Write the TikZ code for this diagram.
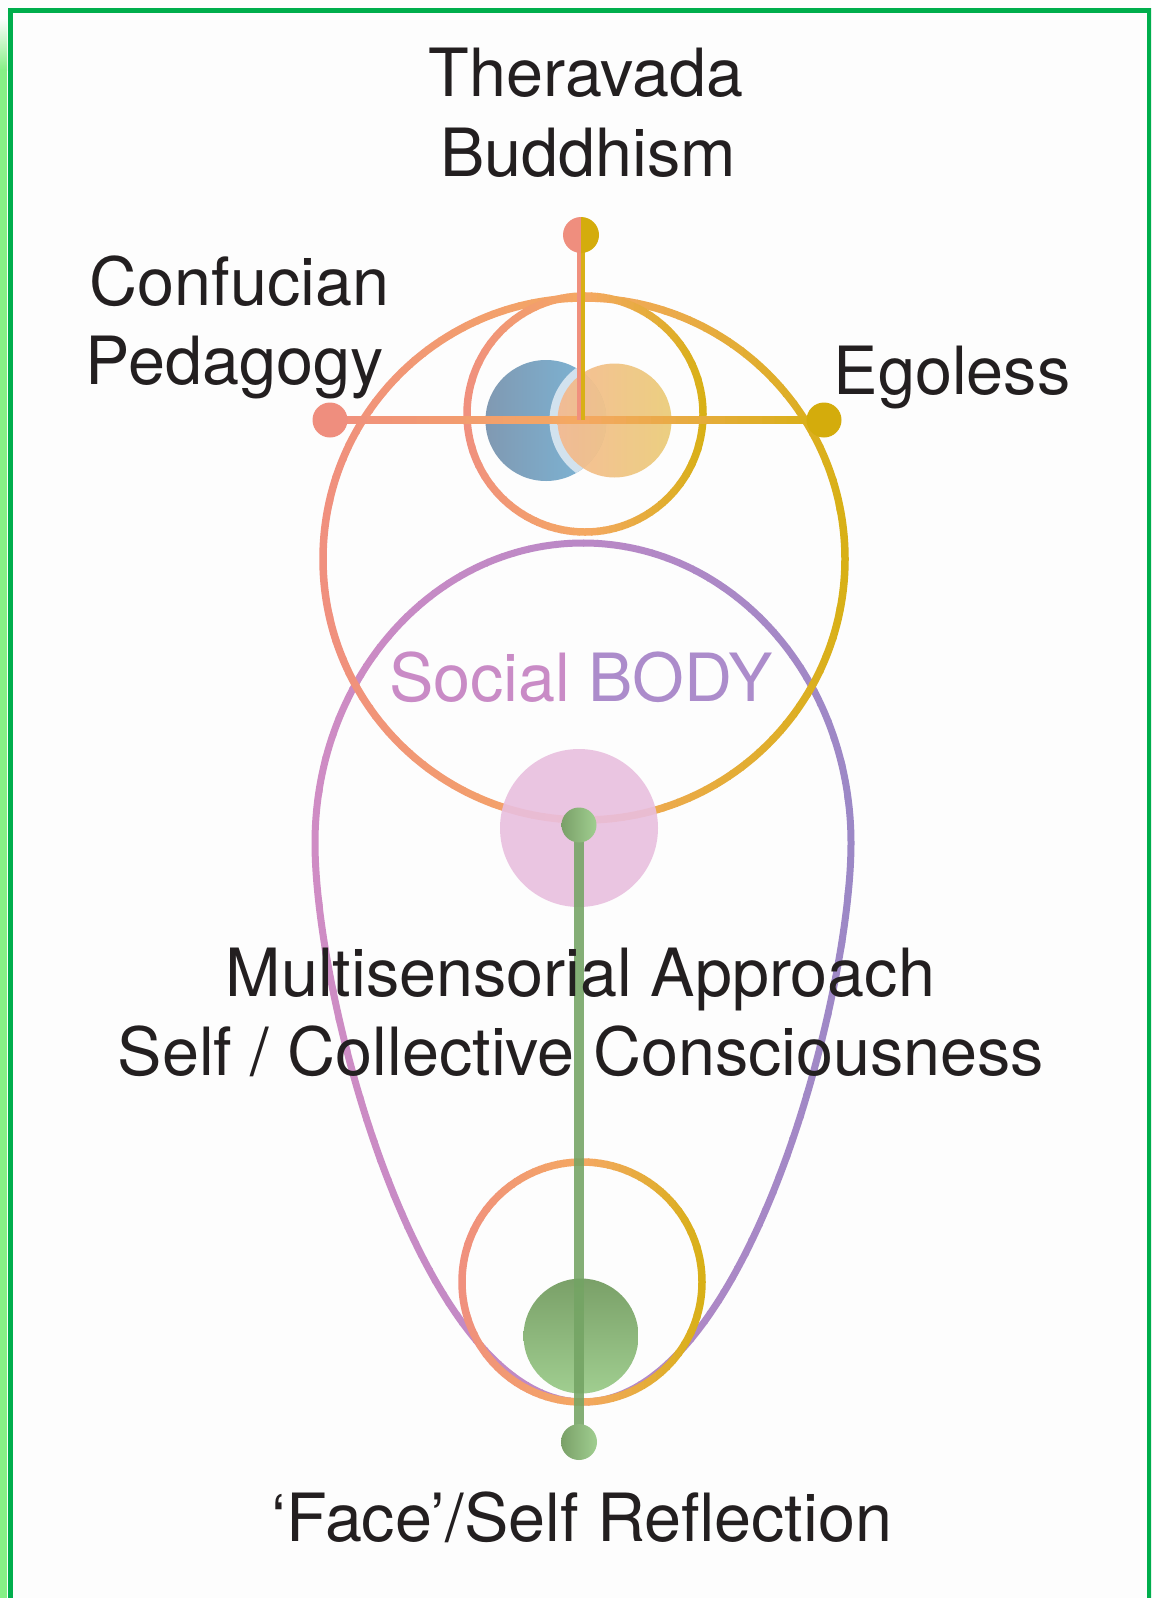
\documentclass[tikz,border=0pt]{standalone}
\usepackage{fontspec}
\setmainfont{TeX Gyre Heros}
\definecolor{bg}{HTML}{FDFDFD}
\definecolor{frame}{HTML}{00AE4C}
\definecolor{glow}{HTML}{86F086}
\definecolor{salmon}{HTML}{F0907E}
\definecolor{orng}{HTML}{F4A862}
\definecolor{gold}{HTML}{D8B016}
\definecolor{dotsalmon}{HTML}{EF8E7E}
\definecolor{dotgold}{HTML}{D4AC0C}
\definecolor{blueL}{HTML}{8099B2}
\definecolor{blueR}{HTML}{7BB8DA}
\definecolor{oranL}{HTML}{F6B68A}
\definecolor{oranR}{HTML}{E9C970}
\definecolor{halo}{HTML}{D2E2EE}
\definecolor{pinkdisc}{HTML}{E9BFDF}
\definecolor{tearL}{HTML}{CF8CC4}
\definecolor{tearM}{HTML}{BA88C6}
\definecolor{tearR}{HTML}{9C88C6}
\definecolor{grn}{HTML}{74A464}
\definecolor{grnD}{HTML}{7AA068}
\definecolor{grnL}{HTML}{A0CE90}
\definecolor{txt}{HTML}{231F20}
\definecolor{socA}{HTML}{C98BC6}
\definecolor{socB}{HTML}{AC8CCB}
\newcommand\gradstroke[7]{%
 \foreach \i in {0,...,39}{%
  \pgfmathsetmacro\xa{#2+(#3-#2)/40*\i}%
  \pgfmathsetmacro\xb{#2+(#3-#2)/40*(\i+1)+1}%
  \ifnum\i<20
    \pgfmathtruncatemacro\pc{100/19*\i}\def\ca{#4}\def\cb{#5}%
  \else
    \pgfmathtruncatemacro\pc{100/19*(\i-20)}\def\ca{#5}\def\cb{#6}%
  \fi
  \begin{scope}
   \clip (\xa,0) rectangle (\xb,1598);
   \draw[line width=#7, color=\cb!\pc!\ca] #1;
  \end{scope}}}
\tikzset{
 lbl/.style={inner sep=0pt, text=txt, font=\fontsize{66.5}{80}\selectfont},
}
\begin{document}
\begin{tikzpicture}[x=1pt,y=-1pt]
\useasboundingbox (0,0) rectangle (1151,1598);
\begin{scope}
\clip (0,0) rectangle (1151,1598);
\fill[bg] (0,0) rectangle (1151,1598);
% frame
\shade[top color=bg, bottom color=glow] (0,18) rectangle (7,70);
\fill[glow] (0,70) rectangle (7,1598);
\draw[frame, line width=5.5pt] (10.5,1598) -- (10.5,10.5) -- (1150,10.5) -- (1150,1598);

% coordinates
\coordinate (bigc) at (584,559);
\coordinate (smallc) at (585,414);
\coordinate (botc) at (582,1282);
\coordinate (tdot) at (581,235);
\coordinate (ldot) at (330,420);
\coordinate (rdot) at (824,420);
\coordinate (cross) at (581,420);
\coordinate (gtop) at (579,825);
\coordinate (gbot) at (579,1442);

% teardrop (social body)
\gradstroke{(315,843) .. controls (315,677) and (435,543) .. (583,543)
   .. controls (731,543) and (851,677) .. (851,843)
   .. controls (851,1000) and (744,1402) .. (583,1402)
   .. controls (422,1402) and (315,1000) .. (315,843) -- cycle}{308}{858}{tearL}{tearM}{tearR}{7pt}

% big circle and small circle rings
\gradstroke{(bigc) circle (261)}{319}{849}{salmon}{orng}{gold}{7.5pt}
\gradstroke{(smallc) circle (118)}{463}{707}{salmon}{orng}{gold}{7.5pt}

% blue and orange discs
\shade[left color=blueL, right color=blueR] (546,420.5) circle (60.5);
\begin{scope}
 \clip (546,420.5) circle (60.5);
 \fill[halo] (614.5,420.5) circle (65);
\end{scope}
\shade[left color=oranL, right color=oranR, opacity=0.88] (614.5,420.5) circle (57);

% horizontal line
\gradstroke{(ldot) -- (rdot)}{330}{824}{salmon}{orng}{gold}{8pt}
% vertical line
\draw[salmon, line width=4pt] ([xshift=-2pt]tdot) -- ([xshift=-2pt]cross);
\draw[gold, line width=4pt] ([xshift=2pt]tdot) -- ([xshift=2pt]cross);
% dots
\fill[dotsalmon] (ldot) circle (17.5);
\fill[dotgold] (rdot) circle (17.5);
\begin{scope}
 \clip (550,200) rectangle (581,270);
 \fill[dotsalmon] (tdot) circle (18);
\end{scope}
\begin{scope}
 \clip (581,200) rectangle (612,270);
 \fill[dotgold] (tdot) circle (18);
\end{scope}

% pink disc
\fill[pinkdisc, opacity=0.9] (579,828) circle (79);

% bottom ring and green disc
\gradstroke{(botc) circle (120)}{458}{706}{salmon}{orng}{gold}{7.5pt}
\shade[top color=grnD, middle color=grnD, bottom color=grnL] (581,1336) circle (57.5);

% green line and dots
\draw[grn, opacity=0.88, line width=9.5pt] (gtop) -- (gbot);
\shade[left color=grnD, right color=grnL] (gtop) circle (17.5);
\shade[left color=grnD, right color=grnL] (gbot) circle (18);

% texts
\node[lbl, anchor=base] (ther1) at (586,96.7) {Theravada};
\node[lbl, anchor=base] (ther2) at (588,176.7) {Buddhism};
\node[lbl, anchor=base west] (conf1) at (89.7,305.7) {Confucian};
\node[lbl, anchor=base west] (conf2) at (85.6,384.2) {Pedagogy};
\node[lbl, anchor=base west] (ego) at (833.6,394.4) {Egoless};
\node[lbl, anchor=base] (social) at (581,701) {\textcolor{socA}{Social} \textcolor{socB}{BODY}};
\node[lbl, anchor=base] (multi1) at (580.4,996.6) {Multisensorial Approach};
\node[lbl, anchor=base] (multi2) at (581,1075) {Self / Collective Consciousness};
\node[lbl, anchor=base] (face) at (582,1541) {‘Face’/Self Reflection};
\end{scope}
\end{tikzpicture}
\end{document}
